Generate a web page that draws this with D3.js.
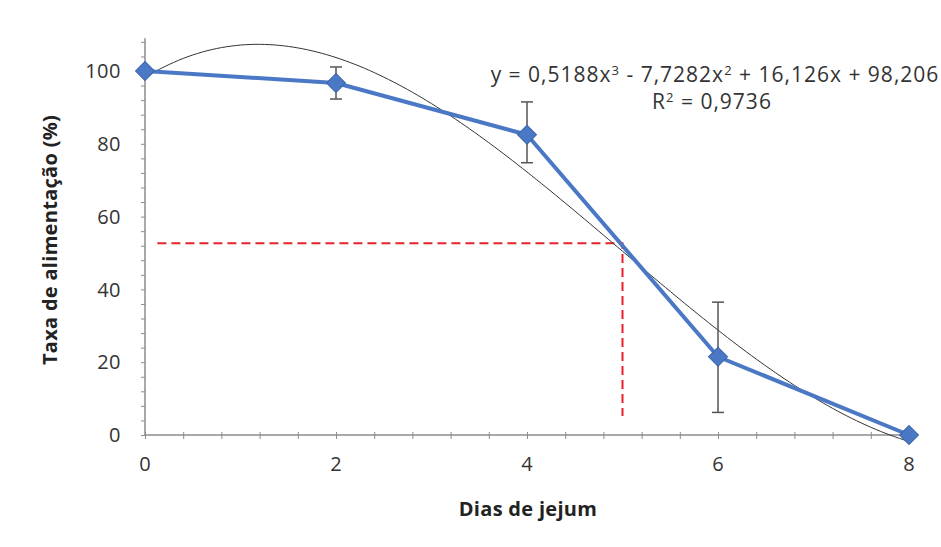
<!DOCTYPE html>
<html><head><meta charset="utf-8">
<script src="https://cdn.jsdelivr.net/npm/d3@7"></script>
<style>body{margin:0;background:#fff}svg{display:block}text{font-family:"Open Sans","Noto Sans",sans-serif}</style>
</head><body>
<svg id="c" width="941" height="547"></svg>
<script>
const days = [0, 2, 4, 6, 8];
const feeding = [100, 96.7, 82.5, 21.5, 0];
const errLow = [null, 92.3, 74.8, 6.2, null];
const errHigh = [null, 101.1, 91.5, 36.5, null];
const trendCoef = [98.206, 16.126, -7.7282, 0.5188]; // c0 + c1 x + c2 x^2 + c3 x^3 (from chart equation)
const xTicks = [0, 2, 4, 6, 8];
const yTicks = [0, 20, 40, 60, 80, 100];
const refY = 52.7, refX = 5.0, refXStart = 0.13, refYEnd = 5.2;
const eqLine1 = ["y = 0,5188x", "3", " - 7,7282x", "2", " + 16,126x + 98,206"];
const eqLine2 = ["R", "2", " = 0,9736"];

const svg = d3.select("#c");
const x = d3.scaleLinear().domain([0, 8]).range([145, 909]);
const y = d3.scaleLinear().domain([0, 100]).range([435, 71]);
const axisCol = "#8c8c8c";

// y axis
const ya = svg.append("g").attr("transform", "translate(145,0)")
  .call(d3.axisLeft(y).tickValues(d3.range(0, 109, 4)).tickSize(4).tickFormat(""));
ya.select(".domain").attr("d", `M0,${y(0)}V${y(109)}`).attr("stroke", axisCol).attr("stroke-width", 1.5);
ya.selectAll(".tick line").attr("stroke", axisCol);
svg.append("g").selectAll("text").data(yTicks).join("text")
  .attr("x", 121).attr("y", d => y(d)).attr("dy", "0.36em").attr("text-anchor", "end")
  .attr("font-size", 20).attr("letter-spacing", 0.5).attr("fill", "#333").text(d => d);

// x axis
const xa = svg.append("g").attr("transform", `translate(0,${y(0)})`)
  .call(d3.axisBottom(x).tickValues(d3.range(0, 8.01, 0.4)).tickSize(4).tickFormat(""));
xa.select(".domain").attr("d", `M${x(0)},0H${x(8)}`).attr("stroke", axisCol).attr("stroke-width", 1.5);
xa.selectAll(".tick line").attr("stroke", axisCol).attr("y1", -3);
svg.append("g").selectAll("text").data(xTicks).join("text")
  .attr("x", d => x(d)).attr("y", 471).attr("text-anchor", "middle")
  .attr("font-size", 20).attr("fill", "#333").text(d => d);

// axis titles
svg.append("text").attr("x", 528).attr("y", 516).attr("text-anchor", "middle")
  .attr("font-size", 20).attr("letter-spacing", 0.3).attr("font-weight", "bold").attr("fill", "#222").text("Dias de jejum");
svg.append("text").attr("transform", "translate(57,240) rotate(-90)").attr("text-anchor", "middle")
  .attr("font-size", 20).attr("letter-spacing", 0.3).attr("font-weight", "bold").attr("fill", "#222").text("Taxa de alimentação (%)");

// red reference lines
svg.append("path").attr("d", `M${x(refXStart)},${y(refY)}H${x(refX)}V${y(refYEnd)}`)
  .attr("fill", "none").attr("stroke", "#e8212b").attr("stroke-width", 2).attr("stroke-dasharray", "9,5");

// trendline
const tx = d3.range(0, 8.001, 0.05);
const poly = v => trendCoef.reduce((s, c, i) => s + c * Math.pow(v, i), 0);
svg.append("path").datum(tx)
  .attr("d", d3.line().x(d => x(d)).y(d => y(poly(d))))
  .attr("fill", "none").attr("stroke", "#333").attr("stroke-width", 1);

// data line
const pts = days.map((d, i) => ({x: d, y: feeding[i], lo: errLow[i], hi: errHigh[i]}));
svg.append("path").datum(pts)
  .attr("d", d3.line().x(d => x(d.x)).y(d => y(d.y)))
  .attr("fill", "none").attr("stroke", "#4a78c4").attr("stroke-width", 4).attr("stroke-linejoin", "round");

// error bars
const eb = svg.append("g").attr("stroke", "#555").attr("stroke-width", 1.5);
pts.filter(d => d.lo != null).forEach(d => {
  eb.append("line").attr("x1", x(d.x)).attr("x2", x(d.x)).attr("y1", y(d.lo)).attr("y2", y(d.hi));
  eb.append("line").attr("x1", x(d.x) - 6).attr("x2", x(d.x) + 6).attr("y1", y(d.lo)).attr("y2", y(d.lo));
  eb.append("line").attr("x1", x(d.x) - 6).attr("x2", x(d.x) + 6).attr("y1", y(d.hi)).attr("y2", y(d.hi));
});

// markers (square rotated 45°)
svg.append("g").selectAll("path").data(pts).join("path")
  .attr("transform", d => `translate(${x(d.x)},${y(d.y)}) rotate(45)`)
  .attr("d", d3.symbol(d3.symbolSquare, 180))
  .attr("fill", "#4a78c4").attr("stroke", "#3d67ad").attr("stroke-width", 1);

// equation
function eq(parts, cx, cy) {
  const t = svg.append("text").attr("x", cx).attr("y", cy).attr("text-anchor", "middle")
    .attr("font-size", 21).attr("letter-spacing", 1).attr("fill", "#333");
  parts.forEach((p, i) => {
    if (i % 2 === 1) t.append("tspan").attr("font-size", 13).attr("dy", -7).text(p);
    else t.append("tspan").attr("dy", i === 0 ? 0 : 7).text(p);
  });
}
eq(eqLine1, 715, 82);
eq(eqLine2, 712, 109);
</script>
</body></html>
